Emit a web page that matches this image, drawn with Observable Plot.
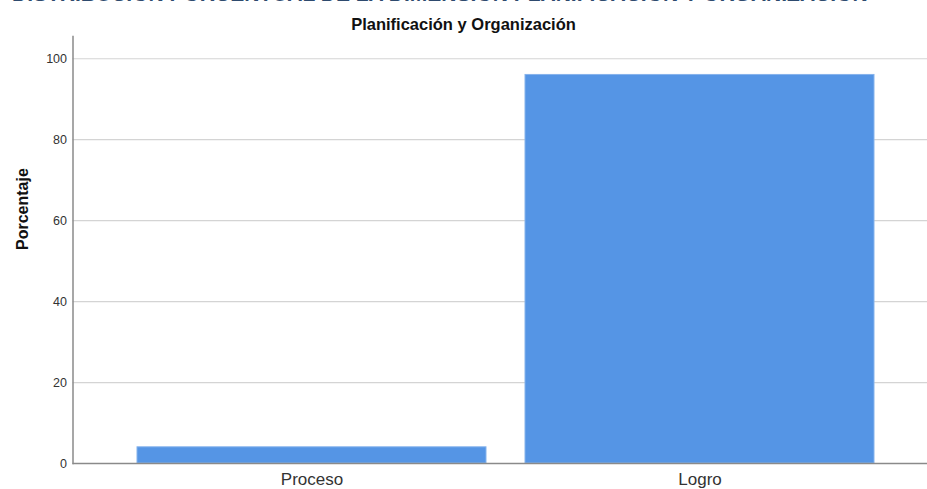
<!DOCTYPE html>
<html>
<head>
<meta charset="utf-8">
<script src="https://cdn.jsdelivr.net/npm/d3@7"></script>
<script src="https://cdn.jsdelivr.net/npm/@observablehq/plot@0.6"></script>
<style>
  html, body { margin: 0; padding: 0; background: #fff; overflow: hidden; }
  #wrap { position: relative; width: 927px; height: 489px; overflow: hidden; font-family: "Liberation Sans", Arial, sans-serif; }
  #bigtitle { position: absolute; left: 12px; top: -18px; font-size: 21px; font-weight: bold; color: #2e4a6e; white-space: nowrap; }
  #subtitle { position: absolute; left: 0; width: 927px; top: 15px; text-align: center; font-size: 16.5px; font-weight: bold; color: #111; }
  #chart { position: absolute; left: 0; top: 0; }
</style>
</head>
<body>
<div id="wrap">
  <div id="chart"></div>
  <div id="bigtitle">DISTRIBUCIÓN PORCENTUAL DE LA DIMENSIÓN PLANIFICACIÓN Y ORGANIZACIÓN</div>
  <div id="subtitle">Planificación y Organización</div>
</div>
<script>
const categories = ["Proceso", "Logro"];
const percentages = [4, 96];
const yTicks = [0, 20, 40, 60, 80, 100];
const yLabel = "Porcentaje";

const data = categories.map((c, i) => ({cat: c, pct: percentages[i]}));

const chart = Plot.plot({
  width: 927,
  height: 489,
  marginTop: 36,
  marginBottom: 26,
  marginLeft: 72.5,
  marginRight: 0,
  style: {fontFamily: "Liberation Sans, Arial, sans-serif", background: "#fff", color: "#333"},
  x: {domain: categories, paddingInner: 0.1, paddingOuter: 0.1485, align: 0.55, label: null},
  y: {domain: [0, 105.5], label: null},
  marks: [
    Plot.ruleY(yTicks.filter(d => d > 0), {stroke: "#d4d4d4", strokeWidth: 1.2}),
    Plot.barY(data, {x: "cat", y: "pct", fill: "#5595e5", stroke: "#86b3ec", strokeWidth: 1}),
    Plot.ruleY([0], {stroke: "#8a8a8a", strokeWidth: 1.5}),
    Plot.frame({anchor: "left", stroke: "#8a8a8a", strokeWidth: 1.5}),
    Plot.axisY({ticks: yTicks, tickSize: 0, tickPadding: 6, fontSize: 12.5, fill: "#333", label: null}),
    Plot.axisX({tickSize: 0, tickPadding: 9, fontSize: 17, fill: "#333", label: null}),
    Plot.text([yLabel], {frameAnchor: "left", dx: -50, rotate: -90, fontSize: 16, fontWeight: "bold", fill: "#111", text: d => d})
  ]
});
document.getElementById("chart").appendChild(chart);
</script>
</body>
</html>
